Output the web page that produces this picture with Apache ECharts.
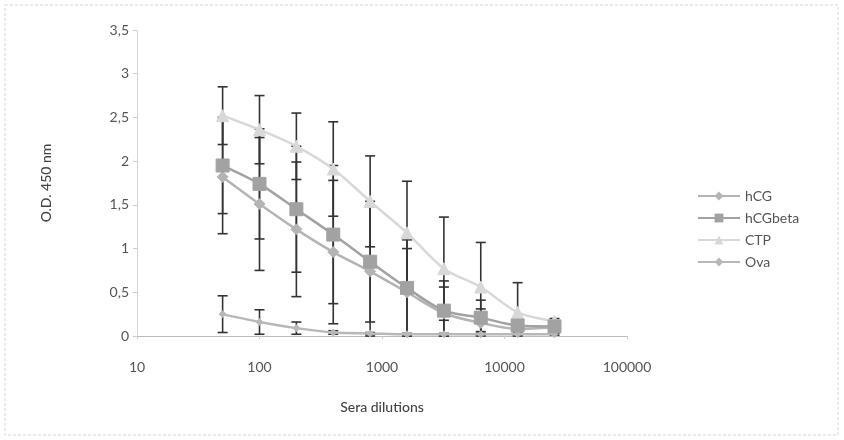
<!DOCTYPE html>
<html>
<head>
<meta charset="utf-8">
<script src="https://cdn.jsdelivr.net/npm/echarts@6/dist/echarts.min.js"></script>
<style>
html,body{margin:0;padding:0;background:#fff;}
#c{width:844px;height:440px;}
</style>
</head>
<body>
<div id="c"></div>
<script>
// Sera dilutions (x, log scale)
const dilutions = [50, 100, 200, 400, 800, 1600, 3200, 6400, 12800, 25600];
const xTicks = [10, 100, 1000, 10000, 100000];
const yTicks = [0, 0.5, 1, 1.5, 2, 2.5, 3, 3.5];

// O.D. 450 nm means
const hCG      = [1.82, 1.51, 1.22, 0.96, 0.74, 0.50, 0.26, 0.15, 0.08, 0.10];
const hCGbeta  = [1.95, 1.74, 1.45, 1.16, 0.85, 0.55, 0.29, 0.21, 0.12, 0.11];
const CTP      = [2.52, 2.36, 2.17, 1.91, 1.54, 1.18, 0.77, 0.56, 0.27, 0.17];
const Ova      = [0.25, 0.16, 0.09, 0.04, 0.03, 0.02, 0.02, 0.02, 0.02, 0.02];

// error bar half-widths (+/-)
const hCGErr     = [0.65, 0.76, 0.77, 0.82, 0.74, 0.50, 0.30, 0.16, 0.03, 0.02];
const hCGbetaErr = [0.55, 0.63, 0.72, 0.79, 0.69, 0.55, 0.34, 0.20, 0.03, 0.02];
const CTPErr     = [0.33, 0.39, 0.38, 0.54, 0.52, 0.59, 0.59, 0.51, 0.34, 0.03];
const OvaErr     = [0.21, 0.14, 0.07, 0.02, 0.01, 0.01, 0.01, 0.01, 0.01, 0.01];

const seriesNames = ['hCG', 'hCGbeta', 'CTP', 'Ova'];

const FONT = 'Lato, "Open Sans", sans-serif';
const chart = echarts.init(document.getElementById('c'));

function pts(vals){ return dilutions.map((d,i)=>[d, vals[i]]); }
function errData(vals, errs){ return dilutions.map((d,i)=>[d, Math.max(0, vals[i]-errs[i]), vals[i]+errs[i]]); }

function errSeries(vals, errs, z){
  return {
    type: 'custom',
    name: 'err',
    z: z,
    silent: true,
    legendHoverLink: false,
    data: errData(vals, errs),
    encode: {x: 0, y: [1, 2]},
    renderItem: function(params, api){
      const x = api.value(0);
      const lo = api.coord([x, api.value(1)]);
      const hi = api.coord([x, api.value(2)]);
      const w = 5;
      const st = {stroke: '#333', lineWidth: 1.6};
      return {
        type: 'group',
        children: [
          {type: 'line', shape: {x1: lo[0], y1: lo[1], x2: hi[0], y2: hi[1]}, style: st},
          {type: 'line', shape: {x1: hi[0]-w, y1: hi[1], x2: hi[0]+w, y2: hi[1]}, style: st},
          {type: 'line', shape: {x1: lo[0]-w, y1: lo[1], x2: lo[0]+w, y2: lo[1]}, style: st}
        ]
      };
    }
  };
}

function lineSeries(name, vals, color, symbol, size, z){
  return {
    type: 'line',
    name: name,
    data: pts(vals),
    smooth: 0.3,
    symbol: symbol,
    symbolSize: size,
    z: z,
    lineStyle: {color: color, width: 2.5},
    itemStyle: {color: color, borderColor: color},
    emphasis: {disabled: true}
  };
}

const option = {
  animation: false,
  backgroundColor: '#fff',
  textStyle: {fontFamily: FONT},
  graphic: [{
    type: 'rect',
    shape: {x: 5, y: 5, width: 833, height: 430},
    style: {fill: 'none', stroke: '#d6d6d6', lineWidth: 1, lineDash: [3, 2]},
    silent: true, z: -10
  }],
  grid: {left: 137, right: 217, top: 30, bottom: 104},
  legend: {
    orient: 'vertical',
    left: 692,
    top: 184,
    itemGap: 8,
    itemWidth: 42,
    itemHeight: 11,
    data: seriesNames,
    textStyle: {color: '#555', fontSize: 14, fontFamily: FONT},
    selectedMode: false
  },
  xAxis: {
    type: 'log',
    logBase: 10,
    min: xTicks[0],
    max: xTicks[xTicks.length-1],
    name: 'Sera dilutions',
    nameLocation: 'middle',
    nameGap: 64,
    nameTextStyle: {color: '#444', fontSize: 14, fontWeight: 500, fontFamily: FONT},
    axisLine: {lineStyle: {color: '#bbb', width: 1}},
    axisTick: {show: true, inside: false, length: 3, lineStyle: {color: '#ccc'}},
    minorTick: {show: false},
    splitLine: {show: false},
    axisLabel: {color: '#555', fontSize: 14, margin: 24, fontFamily: FONT,
      formatter: v => String(Math.round(v))}
  },
  yAxis: {
    type: 'value',
    min: yTicks[0],
    max: yTicks[yTicks.length-1],
    interval: 0.5,
    name: 'O.D. 450 nm',
    nameLocation: 'middle',
    nameGap: 84,
    nameTextStyle: {color: '#444', fontSize: 14, fontWeight: 500, fontFamily: FONT},
    axisLine: {show: true, lineStyle: {color: '#ccc', width: 1, type: 'dotted'}},
    axisTick: {show: true, length: 4, lineStyle: {color: '#ccc'}},
    splitLine: {show: false},
    axisLabel: {color: '#555', fontSize: 14, margin: 8, fontFamily: FONT,
      formatter: v => String(v).replace('.', ',')}
  },
  series: [
    errSeries(hCG, hCGErr, 1),
    errSeries(hCGbeta, hCGbetaErr, 1),
    errSeries(CTP, CTPErr, 1),
    errSeries(Ova, OvaErr, 1),
    lineSeries('hCG', hCG, '#b4b4b4', 'diamond', 11, 3),
    lineSeries('hCGbeta', hCGbeta, '#a2a2a2', 'rect', 13, 4),
    lineSeries('CTP', CTP, '#d8d8d8', 'triangle', 12, 2),
    lineSeries('Ova', Ova, '#b8b8b8', 'diamond', 7, 2)
  ]
};
chart.setOption(option);
</script>
</body>
</html>
